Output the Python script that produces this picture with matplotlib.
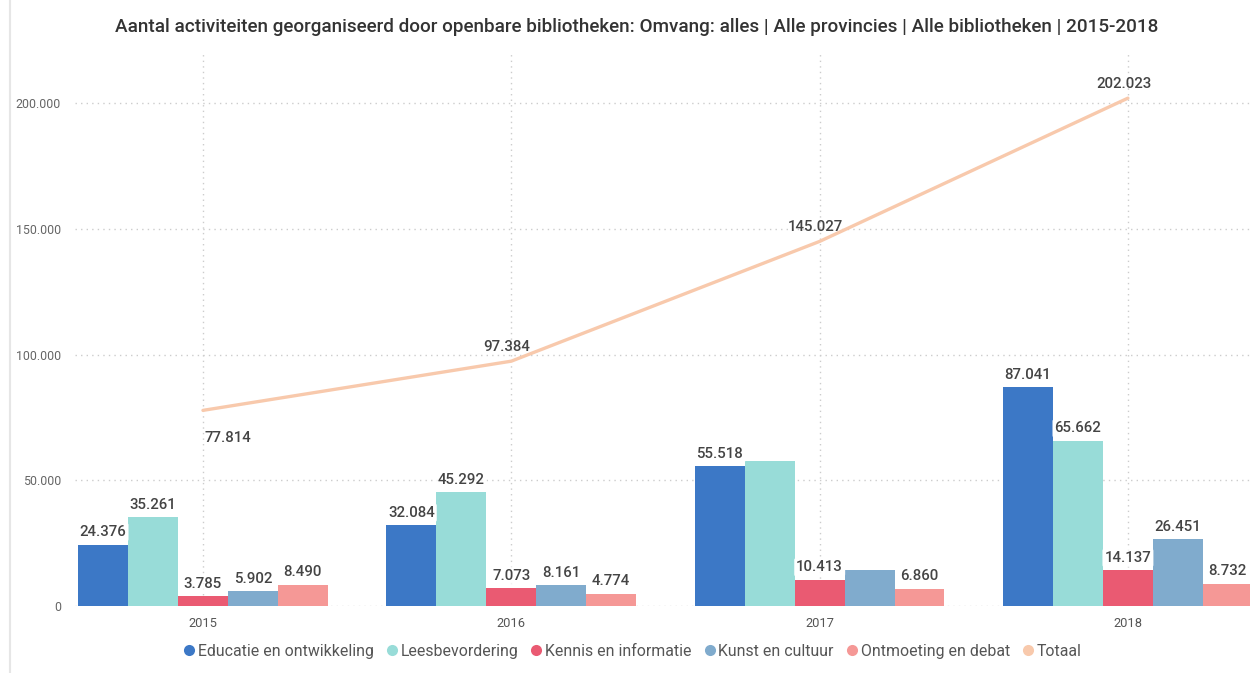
"""Aantal activiteiten openbare bibliotheken, 2015-2018."""

import matplotlib
matplotlib.use("Agg")
import matplotlib.pyplot as plt
import numpy as np
from matplotlib.lines import Line2D

plt.rcParams["font.family"] = ["Roboto", "DejaVu Sans"]

years = ["2015", "2016", "2017", "2018"]
series_names = [
    "Educatie en ontwikkeling",
    "Leesbevordering",
    "Kennis en informatie",
    "Kunst en cultuur",
    "Ontmoeting en debat",
]
educatie = [24376, 32084, 55518, 87041]
leesbevordering = [35261, 45292, 57800, 65662]
kennis = [3785, 7073, 10413, 14137]
kunst = [5902, 8161, 14436, 26451]
ontmoeting = [8490, 4774, 6860, 8732]
totaal = [77814, 97384, 145027, 202023]

# labels Power BI did not draw (overlap)
hidden = {(1, 2), (3, 2)}

colors = ["#3C78C6", "#98DCD8", "#EA5A72", "#80ABCD", "#F59896"]
total_color = "#F8C9AC"


def fmt(v):
    return f"{v:,.0f}".replace(",", ".")


fig = plt.figure(figsize=(12.5, 6.73), dpi=100)
ax = fig.add_axes([0.06, 0.0996, 0.94, 0.8217])

x = np.arange(len(years))
width = 0.162
all_series = [educatie, leesbevordering, kennis, kunst, ontmoeting]

for i, vals in enumerate(all_series):
    pos = x + (i - 2) * width
    ax.bar(pos, vals, width=width, color=colors[i], zorder=3, clip_on=True)
    for j, v in enumerate(vals):
        if (i, j) in hidden:
            continue
        ax.annotate(fmt(v), (pos[j], v), xytext=(0, 4), textcoords="offset points",
                    ha="center", va="bottom", fontsize=10.8, color="#444444", zorder=5,
                    fontweight="medium",
                    bbox=dict(boxstyle="round,pad=0.15", facecolor="white",
                              edgecolor="none", alpha=0.75))

ax.plot(x, totaal, color=total_color, linewidth=2.4, zorder=2, solid_capstyle="round")
for j, v in enumerate(totaal):
    if j == 0:
        off = (18, -15)
        va = "top"
    else:
        off = (-3, 5)
        va = "bottom"
    ax.annotate(fmt(v), (x[j], v), xytext=off, textcoords="offset points",
                ha="center", va=va, fontsize=10.8, color="#444444", zorder=5,
                fontweight="medium")

ax.set_xlim(-0.415, 3.396)
ax.set_ylim(0, 220000)
ax.set_yticks([0, 50000, 100000, 150000, 200000])
ax.set_yticklabels([fmt(t) for t in [0, 50000, 100000, 150000, 200000]],
                   fontsize=8.9, color="#666666")
ax.set_xticks(x)
ax.set_xticklabels(years, fontsize=9.3, color="#555555")
ax.tick_params(length=0, pad=8)
ax.tick_params(axis="y", pad=10)
ax.grid(True, linestyle=(0, (1, 3)), color="#CCCCCC", linewidth=1, zorder=0)
for s in ax.spines.values():
    s.set_visible(False)

fig.text(0.509, 0.96, "Aantal activiteiten georganiseerd door openbare bibliotheken: "
         "Omvang: alles | Alle provincies | Alle bibliotheken | 2015-2018",
         ha="center", va="center", fontsize=13.6, color="#333333", fontweight="medium")

handles = [Line2D([], [], marker="o", linestyle="none", markersize=8,
                  markerfacecolor=c, markeredgecolor="none") for c in colors]
handles.append(Line2D([], [], marker="o", linestyle="none", markersize=8,
                      markerfacecolor=total_color, markeredgecolor="none"))
fig.legend(handles, series_names + ["Totaal"], loc="center", bbox_to_anchor=(0.506, 0.032),
           ncol=6, frameon=False, fontsize=11.4, handletextpad=0.2, handlelength=0.7,
           columnspacing=0.8, labelcolor="#555555")

# thin panel border on the left
fig.add_artist(Line2D([0.008, 0.008], [0.0, 1.0], color="#E6E6E6", linewidth=1.5))

fig.savefig("out.png", dpi=100)
